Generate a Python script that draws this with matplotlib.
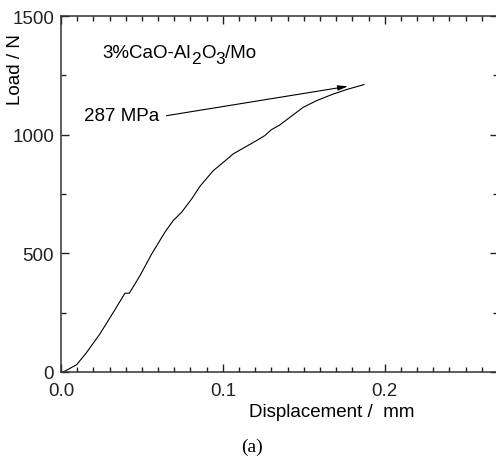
import matplotlib
matplotlib.use('Agg')
import matplotlib.pyplot as plt
from matplotlib.ticker import MultipleLocator

plt.rcParams['font.family'] = ['Liberation Sans', 'DejaVu Sans']

# load-displacement curve
disp = [0.0014, 0.0097, 0.0159, 0.024, 0.0323, 0.0395, 0.0422, 0.0488, 0.056,
        0.0642, 0.0693, 0.0745, 0.0807, 0.0858, 0.094, 0.1002, 0.1064, 0.1136,
        0.1208, 0.1259, 0.130, 0.1352, 0.1414, 0.1496, 0.1578, 0.1681, 0.1764,
        0.1872]
load = [0, 31, 83, 160, 251, 332, 332, 406, 497, 589, 638, 673, 729, 782,
        848, 883, 919, 947, 975, 996, 1021, 1041, 1073, 1115, 1143, 1171,
        1190, 1211]

x_ticks = [0.0, 0.1, 0.2]
x_ticklabels = ['0.0', '0.1', '0.2']
y_ticks = [0, 500, 1000, 1500]
# sample name pieces: (text, is_subscript)
sample_parts = [('3%CaO-Al', False), ('2', True), ('O', False), ('3', True), ('/Mo', False)]
strength_label = '287 MPa'
arrow_from = (0.0652, 1080)
arrow_to = (0.1774, 1204)

FS = 13.5

fig = plt.figure(figsize=(4.96, 4.60), dpi=100)
ax = fig.add_axes([61 / 496, 87 / 460, 437 / 496, 356 / 460])

ax.plot(disp, load, color='black', linewidth=0.8)

ax.set_xlim(0, 0.27)
ax.set_ylim(0, 1500)
ax.set_xticks(x_ticks)
ax.set_xticklabels(x_ticklabels)
ax.set_yticks(y_ticks)
ax.xaxis.set_minor_locator(MultipleLocator(0.01))
ax.yaxis.set_minor_locator(MultipleLocator(250))
ax.tick_params(which='both', direction='in', top=True, right=True,
               labelsize=FS, colors='#222222', width=1.0)
ax.tick_params(which='major', length=6)
ax.tick_params(which='minor', length=3.5)
ax.tick_params(axis='x', which='major', pad=7)
ax.tick_params(axis='y', which='major', pad=5)
for s in ax.spines.values():
    s.set_linewidth(1.1)
    s.set_color('#333333')

fig.text(15 / 496, 1 - 70 / 460, 'Load / N', fontsize=FS, rotation=90,
         ha='center', va='center')
fig.text(332 / 496, 1 - 413 / 460, 'Displacement /  mm', fontsize=FS,
         ha='center', va='center')
fig.text(252 / 496, 1 - 447 / 460, '(a)', fontsize=14, family='Liberation Serif',
         ha='center', va='center')

# sample name, built piece by piece so the subscripts stay large
prev = ax.text(0.0258, 1328, sample_parts[0][0], fontsize=FS, ha='left', va='baseline')
prev_sub = False
for txt, sub in sample_parts[1:]:
    dy = 0
    if sub and not prev_sub:
        dy = -3.6
    elif prev_sub and not sub:
        dy = 3.6
    prev = ax.annotate(txt, xy=(1, 0), xycoords=prev, xytext=(0, dy),
                       textcoords='offset points', fontsize=FS * (0.92 if sub else 1),
                       ha='left', va='bottom')
    prev_sub = sub

ax.annotate('', xy=arrow_to, xytext=arrow_from,
            arrowprops=dict(arrowstyle='-|>,head_length=0.6,head_width=0.15',
                            color='black', linewidth=0.8, shrinkA=0, shrinkB=0))
ax.text(0.0605, arrow_from[1], strength_label, fontsize=FS, ha='right', va='center')

fig.savefig('out.png', dpi=100)
